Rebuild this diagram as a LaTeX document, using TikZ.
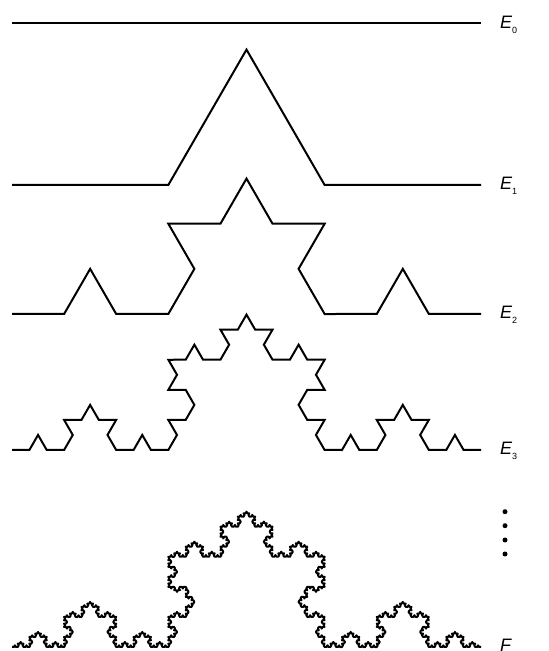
\documentclass[tikz,border=0pt]{standalone}
\usepackage{fontspec}
\setmainfont{Liberation Sans}
\usetikzlibrary{decorations.fractals}
\newcommand{\curvename}[2]{\textit{#1}\raisebox{-0.5ex}{\fontsize{9}{9}\selectfont #2}}

\begin{document}
\begin{tikzpicture}[x=1pt,y=1pt,line width=2pt,line join=miter,decoration=Koch snowflake,
  curvelabel/.style={anchor=base west,inner sep=0pt,yshift=-5pt,font=\fontsize{18}{20}\selectfont}]
\useasboundingbox (0,0) rectangle (549,651);
\draw (12,627.7) -- (481,627.7) node[curvelabel,xshift=18pt] (lab0) {\curvename{E}{0}};
\draw decorate{(12,466) -- (481,466)} node[curvelabel,xshift=18pt] (lab1) {\curvename{E}{1}};
\draw decorate{decorate{(12,337) -- (481,337)}} node[curvelabel,xshift=18pt] (lab2) {\curvename{E}{2}};
\draw decorate{decorate{decorate{(12,201) -- (481,201)}}} node[curvelabel,xshift=18pt] (lab3) {\curvename{E}{3}};
\draw[line join=round] decorate{decorate{decorate{decorate{decorate{(12,4) -- (481,4)}}}}} node[curvelabel,xshift=18pt] (labF) {\textit{F}};
\foreach \i/\y in {1/139.3,2/125.3,3/111,4/97}
  \fill (505,\y) circle (2.5) coordinate (dot\i);
\end{tikzpicture}
\end{document}
